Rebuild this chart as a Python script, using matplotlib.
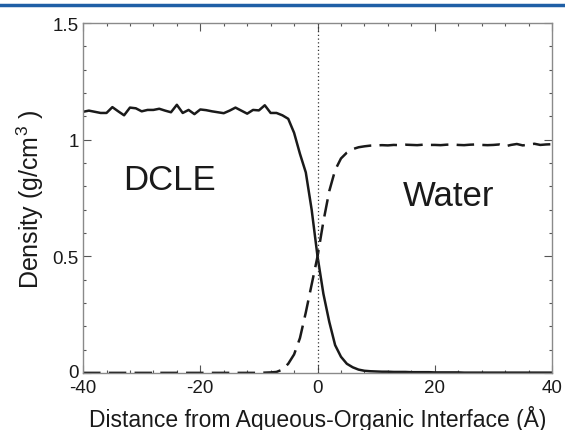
#!/usr/bin/env python3
import matplotlib
matplotlib.use('Agg')
import matplotlib.pyplot as plt
import matplotlib.transforms as mtransforms
from matplotlib.lines import Line2D
from matplotlib.ticker import MultipleLocator

plt.rcParams['font.family'] = ['Liberation Sans', 'DejaVu Sans']
plt.rcParams['axes.unicode_minus'] = False
plt.rcParams['mathtext.fontset'] = 'custom'
plt.rcParams['mathtext.rm'] = 'Liberation Sans'

# Distance from interface (Angstrom), 1 A grid
distance = list(range(-40, 41))

# DCLE density (solid)
dcle = [1.120, 1.125, 1.120, 1.115, 1.115, 1.140, 1.122, 1.105, 1.138, 1.135,
        1.122, 1.128, 1.128, 1.133, 1.125, 1.118, 1.150, 1.115, 1.128, 1.110,
        1.130, 1.127, 1.122, 1.118, 1.114, 1.125, 1.138, 1.125, 1.112, 1.128,
        1.126, 1.148, 1.115, 1.115, 1.105, 1.090, 1.030, 0.940, 0.860, 0.700,
        0.500, 0.340, 0.220, 0.120, 0.070, 0.040, 0.025, 0.015, 0.010, 0.008,
        0.007, 0.006, 0.006, 0.005, 0.005, 0.005, 0.004, 0.004, 0.004, 0.004,
        0.003, 0.003, 0.003, 0.003, 0.003, 0.002, 0.002, 0.002, 0.002, 0.002,
        0.002, 0.002, 0.002, 0.002, 0.002, 0.002, 0.002, 0.002, 0.002, 0.002,
        0.002]

# Water density (dashed)
water = [0.001, 0.001, 0.001, 0.001, 0.001, 0.001, 0.001, 0.001, 0.001, 0.001,
         0.001, 0.001, 0.001, 0.001, 0.001, 0.001, 0.001, 0.001, 0.001, 0.001,
         0.001, 0.001, 0.001, 0.001, 0.001, 0.001, 0.001, 0.001, 0.001, 0.001,
         0.001, 0.002, 0.003, 0.005, 0.015, 0.040, 0.080, 0.150, 0.260, 0.380,
         0.500, 0.650, 0.780, 0.870, 0.920, 0.945, 0.960, 0.968, 0.972, 0.975,
         0.976, 0.977, 0.976, 0.978, 0.977, 0.979, 0.978, 0.977, 0.979, 0.978,
         0.978, 0.977, 0.979, 0.980, 0.978, 0.977, 0.979, 0.980, 0.978, 0.977,
         0.978, 0.980, 0.972, 0.978, 0.982, 0.976, 0.979, 0.983, 0.978, 0.980,
         0.981]

xticks = [-40, -20, 0, 20, 40]
yticks = [0, 0.5, 1, 1.5]
ytick_labels = ['0', '0.5', '1', '1.5']

fig = plt.figure(figsize=(5.65, 4.31), dpi=100)
ax = fig.add_axes([0.147, 0.132, 0.830, 0.812])

# blue rule at the top of the page
fig.add_artist(Line2D([0, 1], [0.9865, 0.9865], transform=fig.transFigure,
                      color='#1f5fa6', linewidth=2.5))

ax.plot(distance, dcle, color='#1a1a1a', linewidth=1.8)
ax.plot(distance, water, color='#1a1a1a', linewidth=1.8, dashes=(7, 3.3))
ax.axvline(0, color='#333333', linewidth=0.9, linestyle=(0, (1, 2)))

ax.set_xlim(-40, 40)
ax.set_ylim(0, 1.5)
ax.set_xticks(xticks)
ax.set_yticks(yticks)
ax.set_yticklabels(ytick_labels)
ax.xaxis.set_minor_locator(MultipleLocator(4))
ax.yaxis.set_minor_locator(MultipleLocator(0.1))

ax.tick_params(which='both', direction='in', top=True, right=True,
               color='#555555', labelsize=13.5, labelcolor='#1a1a1a')
ax.tick_params(which='major', length=6, width=0.8, pad=3)
ax.tick_params(axis='x', which='major', pad=4)
ax.tick_params(which='minor', length=2.5, width=0.8)
for sp in ax.spines.values():
    sp.set_color('#8a8a8a')
    sp.set_linewidth(1.0)

# lift the "0" y label a touch so it clears "-40" below it
zero_lbl = ax.get_yticklabels()[0]
zero_lbl.set_transform(zero_lbl.get_transform() +
                       mtransforms.ScaledTranslation(0, 2 / 72, fig.dpi_scale_trans))

ax.set_xlabel('Distance from Aqueous-Organic Interface (\u00c5)', fontsize=16.5,
              color='#1a1a1a', labelpad=7)
ax.set_ylabel('Density (g/cm$^{3}$ )', fontsize=18, color='#1a1a1a')
ax.yaxis.set_label_coords(-0.08, 0.5)

ax.text(-25.3, 0.83, 'DCLE', fontsize=25, ha='center', va='center', color='#1a1a1a')
ax.text(22.4, 0.76, 'Water', fontsize=25, ha='center', va='center', color='#1a1a1a')

fig.savefig('out.png', dpi=100)
